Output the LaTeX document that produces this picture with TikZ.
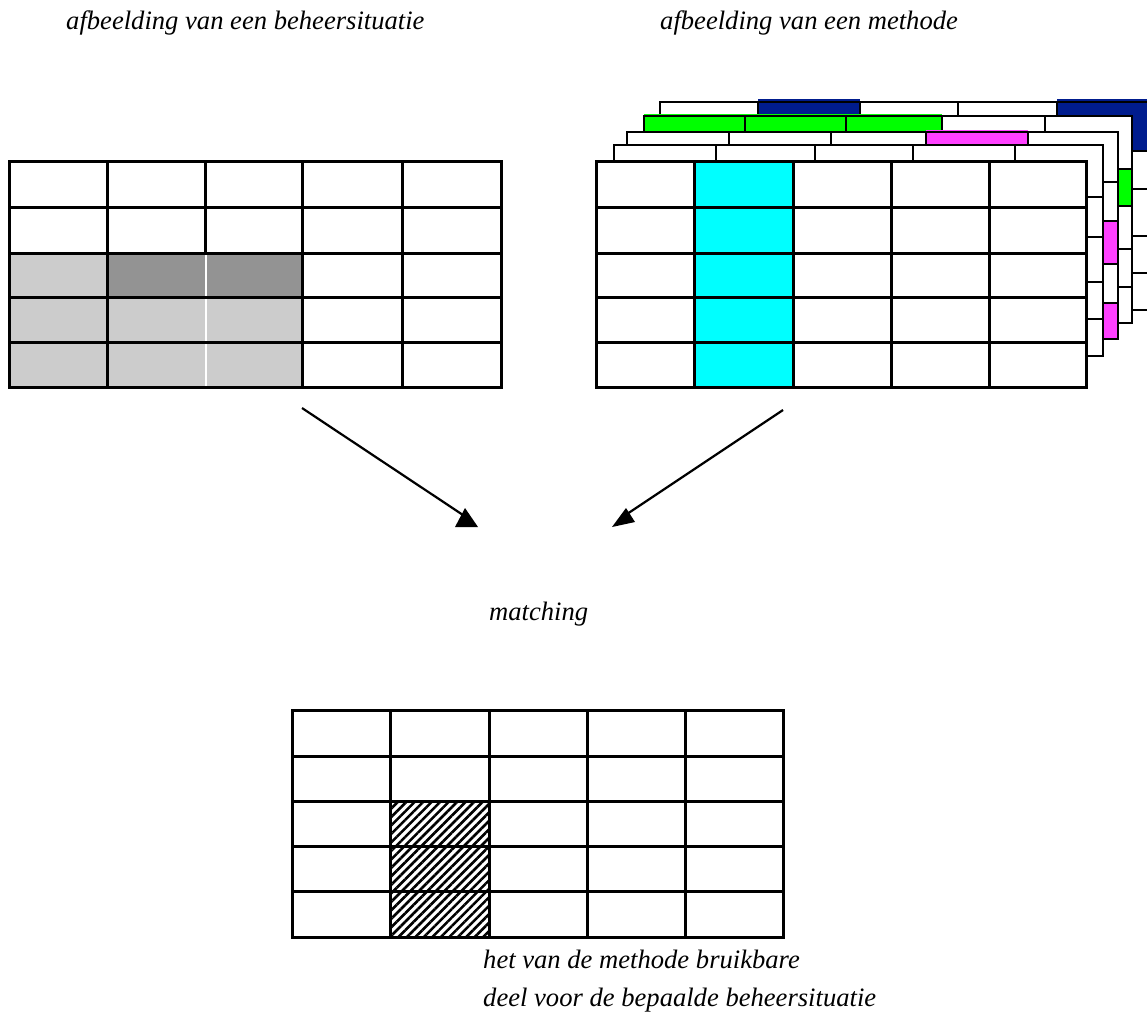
\documentclass[tikz,border=0pt]{standalone}
\usepackage{fontspec}
\setmainfont{Liberation Serif}
\usetikzlibrary{patterns.meta}

\definecolor{cellgrey}{HTML}{CCCCCC}
\definecolor{cellgreydark}{HTML}{939393}
\definecolor{cellnavy}{HTML}{001C8E}
\definecolor{cellgreen}{HTML}{00FF00}
\definecolor{cellpink}{HTML}{FF40FF}
\definecolor{cellcyan}{HTML}{00FFFF}

% outline and inner rules of a table:
% #1 left, #2 right, #3 top, #4 bottom, #5 inner x list, #6 inner y list, #7 style
\newcommand\tablelines[7]{%
  \draw[#7] (#1,#3) rectangle (#2,#4);
  \foreach \xx in {#5} {\draw[#7] (\xx,#3) -- (\xx,#4);}
  \foreach \yy in {#6} {\draw[#7] (#1,\yy) -- (#2,\yy);}
}

\tikzset{
  rule/.style={line width=3pt, line cap=rect},
  sheetrule/.style={line width=2.4pt, line cap=rect},
  caption/.style={anchor=base west, inner sep=0pt, align=left,
    font=\fontsize{26.6}{37.5}\selectfont\itshape},
  link/.style={line width=2.2pt},
  tiphead/.style={fill=black},
  hatch/.style={pattern={Lines[angle=45,distance=6pt,line width=2.6pt]}}
}

\begin{document}
\begin{tikzpicture}[x=1pt,y=-1pt]
\path[use as bounding box] (0,0) rectangle (1147,1013);
\clip (0,0) rectangle (1147,1013);

% ---------- captions ----------
\node[caption] (tsitu) at (66,29) {afbeelding van een beheersituatie};
\node[caption] (tmeth) at (660,29) {afbeelding van een methode};
\node[caption] (tmatch) at (489,620) {matching};
% the anchor of a two-line node sits on the baseline of its last line
\node[caption] (tpart) at (483,1006) {het van de methode bruikbare\\deel voor de bepaalde beheersituatie};

% ---------- management situation (left table) ----------
\fill[cellgrey] (9,253) rectangle (204.5,387);
\fill[cellgrey] (206.5,253) rectangle (302,387);
\fill[cellgreydark] (107,253) rectangle (204.5,297);
\fill[cellgreydark] (206.5,253) rectangle (302,297);
\tablelines{9}{501}{161}{387}{107,302,402}{207,253,297,342}{rule}
\draw[rule] (205,161) -- (205,253);

% ---------- method: stacked sheets, back to front ----------
% sheet 4
\fill[white] (660,102) rectangle (1160,310);
\fill[cellnavy] (758,99) rectangle (860,151);
\fill[cellnavy] (1057,99) rectangle (1160,151);
\tablelines{660}{1160}{102}{310}{758,860,958,1057}{151,189,236,273}{sheetrule}
% sheet 3
\fill[white] (644,116) rectangle (1132,323);
\fill[cellgreen] (644,114) rectangle (942,169);
\fill[cellgreen] (1045,169) rectangle (1132,206);
\tablelines{644}{1132}{116}{323}{745,846,942,1045}{169,206,249,287}{sheetrule}
% sheet 2
\fill[white] (627,132) rectangle (1118,339);
\fill[cellpink] (926,130) rectangle (1028,182);
\fill[cellpink] (1028,221) rectangle (1118,264);
\fill[cellpink] (1028,303) rectangle (1118,339);
\tablelines{627}{1118}{132}{339}{729,831,926,1028}{182,221,264,303}{sheetrule}
% sheet 1
\fill[white] (614,145) rectangle (1103,356);
\tablelines{614}{1103}{145}{356}{716,815,913,1015}{197,237,282,319}{sheetrule}
% front sheet
\fill[white] (596,161) rectangle (1086,387);
\fill[cellcyan] (696,161) rectangle (793,387);
\tablelines{596}{1086}{161}{387}{694,793,891,989}{207,253,297,342}{rule}

% ---------- usable part (bottom table) ----------
\path[hatch] (390,801) rectangle (489,937);
\tablelines{292}{783}{710}{937}{390,489,587,685}{756,801,846,891}{rule}

% ---------- connectors to the matching ----------
\coordinate (situfoot) at (302,408);
\coordinate (methfoot) at (783,410);
\coordinate (matchleft) at (463,515);
\coordinate (matchright) at (624,516);
\draw[link] (situfoot) -- (matchleft);
\draw[link] (methfoot) -- (matchright);
\fill[tiphead] (455,527) -- (478,527) -- (465,508) -- cycle;
\fill[tiphead] (612,527) -- (635,522) -- (626,508) -- cycle;
\end{tikzpicture}
\end{document}
